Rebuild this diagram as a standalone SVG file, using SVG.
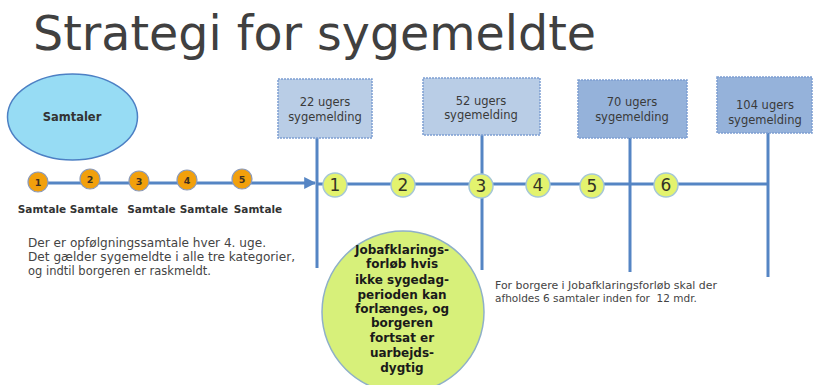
<svg xmlns="http://www.w3.org/2000/svg" width="813" height="385" viewBox="0 0 813 385">
<style>
.t{font-family:"DejaVu Sans","Liberation Sans",sans-serif}
.ln{stroke:#5585c4;stroke-width:3;fill:none}
.box1{fill:#b9cde6;stroke:#7d9fd2;stroke-width:1.5;stroke-dasharray:2 1}
.box2{fill:#95b2da;stroke:#7d9fd2;stroke-width:1.5;stroke-dasharray:2 1}
.bt{font-size:11.5px;fill:#3a3a3a;text-anchor:middle}
.oc{fill:#f2a00c;stroke:#8c9ab8;stroke-width:1.2}
.on{font-size:9.5px;font-weight:bold;fill:#3f3020;text-anchor:middle}
.gc{fill:#e3f36e;stroke:#a5c7d6;stroke-width:1.5}
.gn{font-size:17px;fill:#333326;text-anchor:middle}
.sl{font-size:10.5px;font-weight:bold;fill:#333;text-anchor:middle}
.p{font-size:11.5px;fill:#444}
.ct{font-size:12px;font-weight:bold;fill:#1a1a1a;text-anchor:middle}
</style>
<defs>
<marker id="ah" viewBox="0 0 10 10" refX="9" refY="5" markerWidth="4" markerHeight="4" orient="auto" markerUnits="strokeWidth">
<path d="M0,0 L10,5 L0,10 z" fill="#5585c4"/>
</marker>
</defs>
<rect width="813" height="385" fill="#ffffff"/>
<text class="t" x="33" y="50" font-size="47.5" fill="#404040" textLength="563" lengthAdjust="spacingAndGlyphs">Strategi for sygemeldte</text>

<g id="connectors">
<line class="ln" x1="38" y1="183" x2="315" y2="183" marker-end="url(#ah)"/>
<line class="ln" x1="317" y1="138" x2="317" y2="268"/>
<line class="ln" x1="482" y1="135" x2="482" y2="270"/>
<line class="ln" x1="630" y1="138" x2="630" y2="272"/>
<line class="ln" x1="768" y1="133" x2="768" y2="277"/>
<line class="ln" x1="317" y1="184" x2="768" y2="184"/>
</g>

<g id="samtaler">
<ellipse cx="72.5" cy="117" rx="65" ry="43" fill="#97dcf4" stroke="#4d80c4" stroke-width="1.5"/>
<text class="t" x="72" y="121" font-size="11.5" font-weight="bold" fill="#333" text-anchor="middle">Samtaler</text>
</g>

<g id="box22">
<rect class="box1" x="278" y="79" width="94" height="59"/>
<text class="t bt" x="325" y="106">22 ugers</text>
<text class="t bt" x="325" y="121">sygemelding</text>
</g>
<g id="box52">
<rect class="box1" x="423" y="78" width="117" height="57"/>
<text class="t bt" x="481" y="105">52 ugers</text>
<text class="t bt" x="481" y="119">sygemelding</text>
</g>
<g id="box70">
<rect class="box2" x="578" y="80" width="109" height="58"/>
<text class="t bt" x="632" y="106">70 ugers</text>
<text class="t bt" x="632" y="121">sygemelding</text>
</g>
<g id="box104">
<rect class="box2" x="717" y="77" width="95" height="56"/>
<text class="t bt" x="765" y="109">104 ugers</text>
<text class="t bt" x="765" y="124">sygemelding</text>
</g>

<g id="o1"><circle class="oc" cx="38" cy="182" r="10"/><text class="t on" x="38" y="185.5">1</text></g>
<g id="o2"><circle class="oc" cx="90" cy="179" r="10"/><text class="t on" x="90" y="182.5">2</text></g>
<g id="o3"><circle class="oc" cx="139" cy="181" r="10"/><text class="t on" x="139" y="184.5">3</text></g>
<g id="o4"><circle class="oc" cx="187" cy="180" r="10"/><text class="t on" x="187" y="183.5">4</text></g>
<g id="o5"><circle class="oc" cx="242" cy="179" r="10"/><text class="t on" x="242" y="182.5">5</text></g>

<g id="labels">
<text class="t sl" x="42" y="213">Samtale</text>
<text class="t sl" x="94" y="213">Samtale</text>
<text class="t sl" x="151.5" y="213">Samtale</text>
<text class="t sl" x="204" y="213">Samtale</text>
<text class="t sl" x="258" y="213">Samtale</text>
</g>

<g id="g1"><circle class="gc" cx="335" cy="185" r="12"/><text class="t gn" x="335" y="191">1</text></g>
<g id="g2"><circle class="gc" cx="403" cy="185" r="12"/><text class="t gn" x="403" y="191">2</text></g>
<g id="g3"><circle class="gc" cx="481" cy="186" r="12"/><text class="t gn" x="481" y="192">3</text></g>
<g id="g4"><circle class="gc" cx="538" cy="185" r="12"/><text class="t gn" x="538" y="191">4</text></g>
<g id="g5"><circle class="gc" cx="592" cy="186" r="12"/><text class="t gn" x="592" y="192">5</text></g>
<g id="g6"><circle class="gc" cx="666" cy="185" r="12"/><text class="t gn" x="666" y="191">6</text></g>

<g id="note1">
<text class="t p" x="28" y="247" textLength="238" lengthAdjust="spacingAndGlyphs">Der er opfølgningssamtale hver 4. uge.</text>
<text class="t p" x="28" y="261" textLength="267" lengthAdjust="spacingAndGlyphs">Det gælder sygemeldte i alle tre kategorier,</text>
<text class="t p" x="28" y="275">og indtil borgeren er raskmeldt.</text>
</g>

<g id="jobafklaring">
<circle cx="403" cy="312" r="81" fill="#d7f07a" stroke="#8fb0c8" stroke-width="1.5"/>
<text class="t ct" x="402" y="254">Jobafklarings-</text>
<text class="t ct" x="402" y="268">forløb hvis</text>
<text class="t ct" x="402" y="284">ikke sygedag-</text>
<text class="t ct" x="402" y="299">perioden kan</text>
<text class="t ct" x="402" y="313">forlænges, og</text>
<text class="t ct" x="402" y="327">borgeren</text>
<text class="t ct" x="402" y="342">fortsat er</text>
<text class="t ct" x="402" y="357">uarbejds-</text>
<text class="t ct" x="402" y="372">dygtig</text>
</g>

<g id="note2">
<text class="t" x="495" y="289" font-size="10.5" fill="#444" textLength="222" lengthAdjust="spacingAndGlyphs">For borgere i Jobafklaringsforløb skal der</text>
<text class="t" x="495" y="302" font-size="10.5" fill="#444" xml:space="preserve">afholdes 6 samtaler inden for  12 mdr.</text>
</g>
</svg>
